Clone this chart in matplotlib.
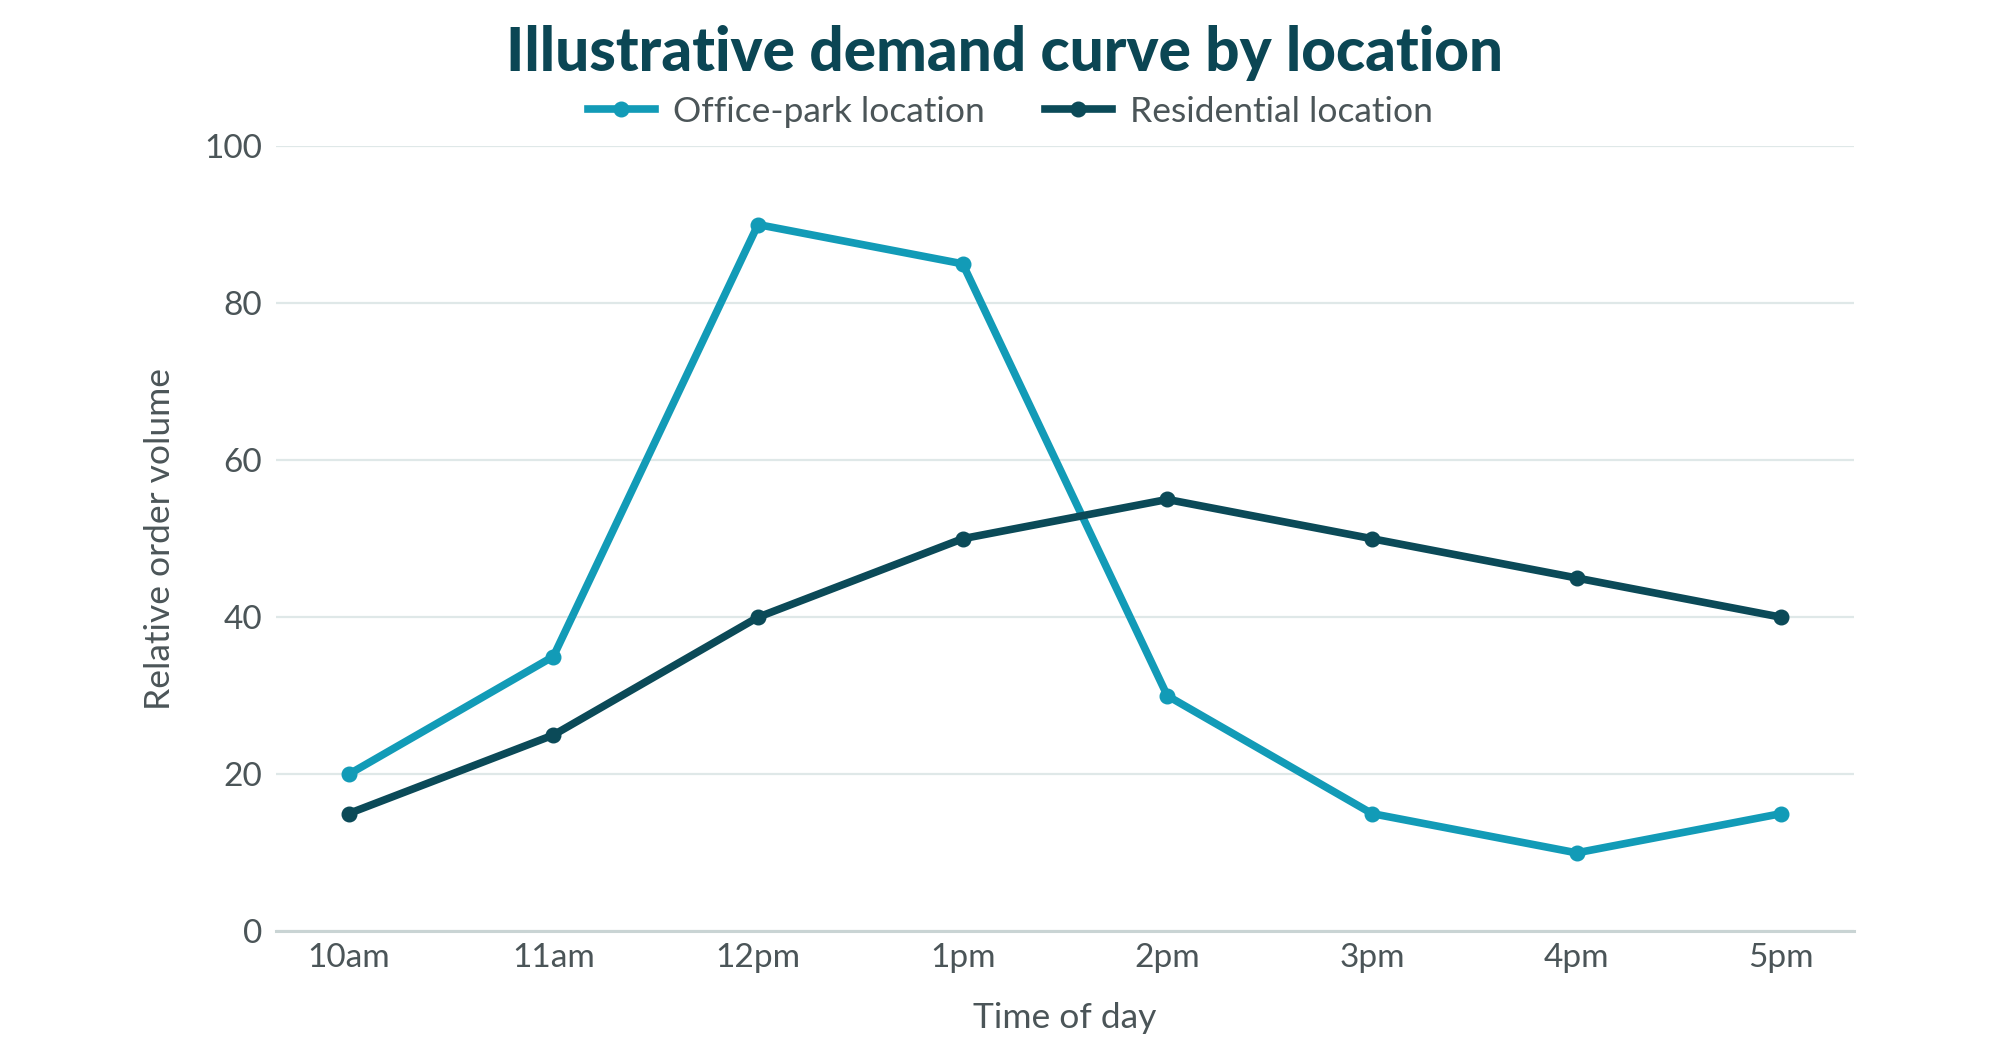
import matplotlib
matplotlib.use("Agg")
import matplotlib.pyplot as plt

times = ["10am", "11am", "12pm", "1pm", "2pm", "3pm", "4pm", "5pm"]
office_park = [20, 35, 90, 85, 30, 15, 10, 15]
residential = [15, 25, 40, 50, 55, 50, 45, 40]
yticks = [0, 20, 40, 60, 80, 100]

C_OFFICE = "#129bb7"
C_RES = "#0b4a58"
C_TITLE = "#0b4654"
C_TEXT = "#4b5558"
C_GRID = "#dfe8e8"

plt.rcParams['font.family'] = ['Lato', 'DejaVu Sans']

fig = plt.figure(figsize=(20, 10.43), dpi=100)
ax = fig.add_axes([0.138, 0.107, 0.927 - 0.138, 0.860 - 0.107])

x = list(range(len(times)))
ax.plot(x, office_park, color=C_OFFICE, lw=5.5, marker='o', ms=10.5,
        label="Office-park location", solid_joinstyle='round', zorder=3)
ax.plot(x, residential, color=C_RES, lw=5.5, marker='o', ms=10.5,
        label="Residential location", solid_joinstyle='round', zorder=3)

ax.set_xlim(-0.355, len(times) - 1 + 0.355)
ax.set_ylim(0, 100)
ax.set_yticks(yticks)
ax.set_xticks(x)
ax.set_xticklabels(times)
ax.grid(axis='y', color=C_GRID, lw=1.6)
ax.grid(axis='x', visible=False)
ax.set_axisbelow(True)
for s in ['top', 'right', 'left']:
    ax.spines[s].set_visible(False)
ax.spines['bottom'].set_color("#c9d4d4")
ax.spines['bottom'].set_linewidth(2.2)
ax.tick_params(axis='both', length=0, labelsize=24, colors=C_TEXT)
ax.tick_params(axis='y', pad=10)
ax.tick_params(axis='x', pad=8)

ax.set_xlabel("Time of day", fontsize=25.5, color=C_TEXT, labelpad=21)
ax.set_ylabel("Relative order volume", fontsize=25.5, color=C_TEXT, labelpad=20)

title = fig.text(0.502, 0.949, "Illustrative demand curve by location",
                 ha='center', va='center', fontsize=44, fontweight='black',
                 color=C_TITLE)
# fit title width to reference (~0.498 of figure width)
fig.canvas.draw()
r = fig.canvas.get_renderer()
w = title.get_window_extent(renderer=r).width / fig.bbox.width
title.set_fontsize(44 * 0.498 / w)

leg = fig.legend(loc='center', bbox_to_anchor=(0.505, 0.893), ncol=2,
                 frameon=False, fontsize=25.5, handlelength=1.9,
                 handletextpad=0.5, columnspacing=1.7)
for t in leg.get_texts():
    t.set_color(C_TEXT)

fig.savefig("out.png", dpi=100)
